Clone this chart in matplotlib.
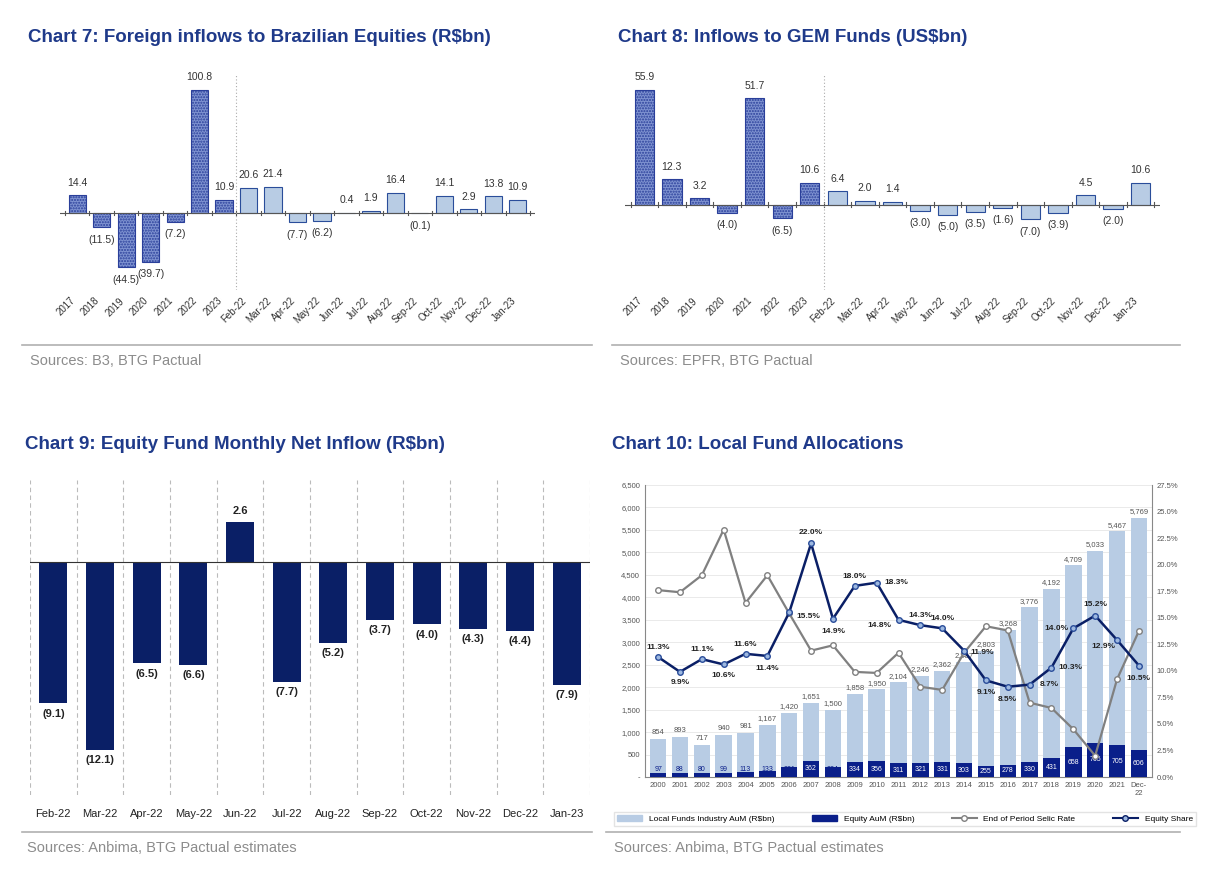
import matplotlib
matplotlib.use("Agg")
import matplotlib.pyplot as plt
import numpy as np
from matplotlib.lines import Line2D
from matplotlib.patches import Patch

NAVY = "#1f2f7a"
TITLE = "#1f3a8a"
GREY = "#8c8c8c"

# ---- data ----
c7_labels = ["2017", "2018", "2019", "2020", "2021", "2022", "2023", "Feb-22", "Mar-22", "Apr-22",
             "May-22", "Jun-22", "Jul-22", "Aug-22", "Sep-22", "Oct-22", "Nov-22", "Dec-22", "Jan-23"]
c7_values = [14.4, -11.5, -44.5, -39.7, -7.2, 100.8, 10.9, 20.6, 21.4, -7.7,
             -6.2, 0.4, 1.9, 16.4, -0.1, 14.1, 2.9, 13.8, 10.9]
c8_values = [55.9, 12.3, 3.2, -4.0, 51.7, -6.5, 10.6, 6.4, 2.0, 1.4,
             -3.0, -5.0, -3.5, -1.6, -7.0, -3.9, 4.5, -2.0, 10.6]
n_years = 7

c9_labels = ["Feb-22", "Mar-22", "Apr-22", "May-22", "Jun-22", "Jul-22", "Aug-22", "Sep-22",
             "Oct-22", "Nov-22", "Dec-22", "Jan-23"]
c9_values = [-9.1, -12.1, -6.5, -6.6, 2.6, -7.7, -5.2, -3.7, -4.0, -4.3, -4.4, -7.9]

c10_labels = [str(y) for y in range(2000, 2022)] + ["Dec-\n22"]
aum = [854, 893, 717, 940, 981, 1167, 1420, 1651, 1500, 1858, 1950, 2104, 2246, 2362, 2557,
       2803, 3268, 3776, 4192, 4709, 5033, 5467, 5769]
equity_aum = [97, 88, 80, 99, 113, 133, 221, 362, 224, 334, 356, 311, 321, 331, 303, 255, 278,
              330, 431, 658, 765, 705, 606]
equity_share = [11.3, 9.9, 11.1, 10.6, 11.6, 11.4, 15.5, 22.0, 14.9, 18.0, 18.3, 14.8, 14.3,
                14.0, 11.9, 9.1, 8.5, 8.7, 10.3, 14.0, 15.2, 12.9, 10.5]
selic = [17.6, 17.4, 19.0, 23.3, 16.4, 19.0, 15.4, 11.9, 12.4, 9.9, 9.8, 11.7, 8.5, 8.2, 11.7,
         14.2, 13.8, 7.0, 6.5, 4.5, 2.0, 9.2, 13.75]


def fmt(v):
    return f"({abs(v):.1f})" if v < 0 else f"{v:.1f}"


def px(x0, y0, x1, y1):
    W, H = 1208, 886
    return [x0 / W, 1 - y1 / H, (x1 - x0) / W, (y1 - y0) / H]


fig = plt.figure(figsize=(12.08, 8.86), dpi=100)
plt.rcParams["font.family"] = ["Liberation Sans", "DejaVu Sans"]


def header(x, y, title, source, line_x0, line_x1, line_y):
    fig.text(x / 1208, 1 - y / 886, title, fontsize=13.5, fontweight="bold", color=TITLE, va="center")
    fig.add_artist(Line2D([line_x0 / 1208, line_x1 / 1208], [1 - line_y / 886] * 2,
                          color="#b0b0b0", lw=1.2))
    fig.text((x + 2) / 1208, 1 - (line_y + 16) / 886, source, fontsize=10.5, color=GREY, va="center")


def small_chart(rect, values, ylim, sep_x):
    ax = fig.add_axes(rect)
    x = np.arange(len(values))
    for i, v in enumerate(values):
        if i < n_years:
            ax.bar(i, v, 0.7, color="#7f93d1", edgecolor="#2a3f9a", hatch="......", lw=0.8)
        else:
            ax.bar(i, v, 0.7, color="#b8cce4", edgecolor="#2a4d9a", lw=0.8)
        off = 0.035 * (ylim[1] - ylim[0])
        ax.text(i, v + off if v >= 0 else v - off, fmt(v), ha="center",
                va="bottom" if v >= 0 else "top", fontsize=7.5, color="#333333")
    ax.axhline(0, color="#555555", lw=0.8)
    for b in np.arange(-0.5, len(values), 1):
        ax.plot([b, b], [-0.01 * (ylim[1] - ylim[0]), 0.01 * (ylim[1] - ylim[0])], color="#555555", lw=0.8)
    ax.axvline(sep_x, color="#aaaaaa", lw=0.8, ls=(0, (1, 2)))
    ax.set_ylim(*ylim)
    ax.set_xlim(-0.7, len(values) - 0.3)
    ax.set_yticks([])
    ax.set_xticks(x)
    ax.set_xticklabels(c7_labels, rotation=45, ha="right", fontsize=7, color="#333333")
    ax.tick_params(axis="x", length=0, pad=4)
    for s in ax.spines.values():
        s.set_visible(False)
    return ax


# Chart 7
header(28, 38, "Chart 7: Foreign inflows to Brazilian Equities (R$bn)", "Sources: B3, BTG Pactual", 22, 592, 345)
ax7 = small_chart(px(60, 75, 535, 290), c7_values, (-63, 113), 6.5)

# Chart 8
header(618, 38, "Chart 8: Inflows to GEM Funds (US$bn)", "Sources: EPFR, BTG Pactual", 612, 1180, 345)
ax8 = small_chart(px(625, 75, 1160, 290), c8_values, (-41.5, 63), 6.5)

# Chart 9
header(25, 445, "Chart 9: Equity Fund Monthly Net Inflow (R$bn)", "Sources: Anbima, BTG Pactual estimates", 22, 592, 832)
ax9 = fig.add_axes(px(30, 480, 590, 795))
x9 = np.arange(len(c9_values))
ax9.bar(x9, c9_values, 0.6, color="#0a1f66")
for i, v in enumerate(c9_values):
    ax9.text(i, v - 0.35 if v < 0 else v + 0.35, fmt(v), ha="center", va="top" if v < 0 else "bottom",
             fontsize=8, fontweight="bold", color="#222222")
for b in np.arange(-0.5, len(c9_values) + 0.5, 1):
    ax9.axvline(b, color="#bbbbbb", lw=0.8, ls=(0, (4, 3)))
ax9.axhline(0, color="#333333", lw=0.8)
ax9.set_ylim(-15, 5.3)
ax9.set_xlim(-0.5, len(c9_values) - 0.5)
ax9.set_yticks([])
ax9.set_xticks(x9)
ax9.set_xticklabels(c9_labels, fontsize=8, color="#222222")
ax9.tick_params(axis="x", length=0, pad=10)
for s in ax9.spines.values():
    s.set_visible(False)

# Chart 10
header(612, 445, "Chart 10: Local Fund Allocations", "Sources: Anbima, BTG Pactual estimates", 606, 1180, 832)
ax10 = fig.add_axes(px(645, 485, 1152, 777))
x10 = np.arange(len(aum))
ax10.bar(x10, aum, 0.75, color="#b8cce4", zorder=2)
ax10.bar(x10, equity_aum, 0.75, color="#0a1f8a", zorder=3)
for i in x10:
    ax10.text(i, aum[i] + 60, f"{aum[i]:,}", ha="center", va="bottom", fontsize=5.5, color="#555555", zorder=5)
    small = equity_aum[i] < 250
    ax10.text(i, 160 if small else equity_aum[i] / 2, f"{equity_aum[i]}", ha="center", va="center",
              fontsize=5, color="#0a1f8a" if small else "white", zorder=5)
ax10.set_ylim(0, 6500)
ax10.set_yticks(np.arange(0, 6501, 500))
ax10.set_yticklabels(["-"] + [f"{v:,}" for v in range(500, 6501, 500)], fontsize=5.5, color="#555555")
ax10.grid(axis="y", color="#e6e6e6", lw=0.6, zorder=0)
ax10.set_axisbelow(True)
ax10.set_xlim(-0.6, len(aum) - 0.4)
ax10.set_xticks(x10)
ax10.set_xticklabels(c10_labels, fontsize=5.5, color="#555555")
ax10.tick_params(length=0)
for s in ["top", "right"]:
    ax10.spines[s].set_visible(False)
ax10.spines["left"].set_color("#888888")
ax10.spines["bottom"].set_color("#888888")

axr = ax10.twinx()
axr.plot(x10, selic, color="#808080", lw=1.6, marker="o", ms=4, mfc="white", mec="#808080", zorder=4)
axr.plot(x10, equity_share, color="#0a1f66", lw=1.8, marker="o", ms=4, mfc="#9db8e0", mec="#2a4d9a", zorder=5)
offsets = [(0, 7), (0, -8), (0, 7), (0, -8), (0, 7), (0, -9), (14, -3), (0, 8), (0, -9), (0, 7),
           (14, 0), (-14, -4), (0, 7), (0, 7), (13, -1), (0, -9), (0, -9), (14, 0), (14, 0),
           (-12, 0), (0, 8), (-10, -5), (0, -9)]
for i, v in enumerate(equity_share):
    axr.annotate(f"{v:.1f}%", (i, v), xytext=offsets[i], textcoords="offset points", ha="center",
                 va="center", fontsize=6, fontweight="bold", color="#222222", zorder=6)
axr.set_ylim(0, 27.5)
axr.set_yticks(np.arange(0, 27.6, 2.5))
axr.set_yticklabels([f"{v:.1f}%" for v in np.arange(0, 27.6, 2.5)], fontsize=5.5, color="#555555")
axr.tick_params(length=0)
for s in ["top", "left", "bottom"]:
    axr.spines[s].set_visible(False)
axr.spines["right"].set_color("#888888")

handles = [Patch(color="#b8cce4"), Patch(color="#0a1f8a"),
           Line2D([], [], color="#808080", marker="o", mfc="white", ms=4),
           Line2D([], [], color="#0a1f66", marker="o", mfc="#9db8e0", ms=4)]
names = ["Local Funds Industry AuM (R$bn)", "Equity AuM (R$bn)", "End of Period Selic Rate", "Equity Share"]
fig.legend(handles, names, loc="center", bbox_to_anchor=(905 / 1208, 1 - 819 / 886), ncol=4,
           fontsize=6, frameon=True, edgecolor="#dddddd", fancybox=False, handlelength=3, columnspacing=4.5)

fig.savefig("out.png", dpi=100)
